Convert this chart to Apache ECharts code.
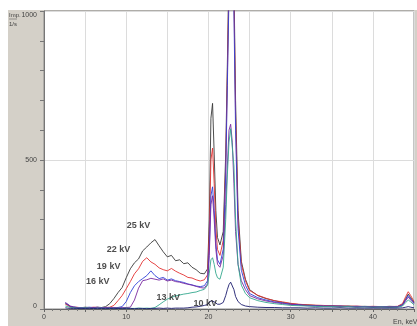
<!DOCTYPE html>
<html>
<head>
<meta charset="utf-8">
<script src="https://cdn.jsdelivr.net/npm/echarts@6/dist/echarts.min.js"></script>
<style>
  html, body { margin: 0; padding: 0; background: #fff; }
  #container { width: 417px; height: 326px; }
</style>
</head>
<body>
<div id="container"></div>
<script>
// energy axis, keV
const xs = [2.6, 2.9, 3.2, 3.6, 4, 4.5, 5, 5.5, 6, 6.5, 7, 7.5, 8, 8.5, 9, 9.5, 10, 10.5, 11, 11.5,
  12, 12.5, 13, 13.5, 14, 14.5, 15, 15.5, 16, 16.5, 17, 17.5, 18, 18.5, 19, 19.5, 19.9, 20.1, 20.3, 20.5,
  20.7, 20.9, 21.1, 21.4, 21.8, 22.1, 22.3, 22.5, 22.7, 22.9, 23.1, 23.3, 23.6, 24.0, 24.5, 25, 26, 27, 28, 29,
  30, 31, 32, 33, 34, 35, 36, 37, 38, 39, 40, 41, 42, 43, 43.6, 44, 44.3, 44.6, 45];

const kv25 = [18, 14, 8, 6, 5, 4, 6, 5, 4, 6, 5, 8, 18, 35, 55, 72, 105, 135, 155, 168,
  195, 208, 222, 233, 212, 192, 175, 180, 162, 165, 152, 155, 140, 132, 120, 118, 135, 300, 640, 690,
  520, 330, 240, 215, 260, 520, 820, 1150, 1350, 1300, 1100, 700, 330, 160, 100, 65, 45, 35, 28, 22,
  18, 15, 14, 12, 10, 11, 9, 10, 8, 9, 8, 7, 9, 8, 15, 35, 50, 38, 22];

const kv22 = [16, 12, 7, 5, 6, 4, 5, 4, 6, 5, 4, 5, 6, 12, 28, 45, 68, 92, 118, 135,
  160, 172, 158, 150, 138, 132, 128, 136, 127, 120, 114, 106, 104, 98, 94, 98, 115, 250, 500, 540,
  420, 270, 200, 180, 230, 480, 780, 1100, 1300, 1280, 1050, 650, 300, 150, 95, 62, 46, 36, 28, 24,
  19, 16, 14, 13, 12, 10, 11, 9, 10, 8, 9, 8, 8, 9, 18, 42, 58, 45, 25];

const kv19 = [20, 15, 9, 6, 5, 5, 4, 6, 5, 4, 5, 4, 5, 4, 5, 8, 25, 55, 78, 92,
  102, 112, 128, 112, 102, 106, 97, 101, 95, 92, 89, 84, 81, 77, 75, 78, 95, 200, 380, 410,
  330, 220, 165, 150, 200, 450, 750, 1050, 1250, 1250, 1000, 600, 270, 130, 80, 52, 38, 30, 24, 20,
  16, 14, 12, 11, 10, 9, 10, 8, 9, 8, 7, 8, 7, 8, 14, 32, 45, 34, 20];

const kv16 = [22, 16, 10, 7, 5, 4, 5, 4, 5, 6, 4, 5, 4, 5, 4, 5, 5, 6, 30, 70,
  95, 98, 103, 100, 97, 101, 94, 97, 92, 90, 86, 83, 80, 76, 72, 70, 85, 180, 350, 380,
  300, 200, 150, 140, 180, 350, 480, 600, 620, 560, 420, 260, 150, 95, 65, 45, 34, 27, 22, 18,
  15, 13, 11, 10, 9, 10, 8, 9, 7, 8, 7, 8, 6, 7, 12, 28, 40, 30, 18];

const kv13 = [10, 8, 5, 4, 3, 3, 4, 3, 2, 3, 3, 2, 3, 2, 3, 2, 3, 2, 2, 3,
  2, 3, 2, 5, 14, 24, 33, 39, 44, 47, 50, 52, 55, 57, 62, 66, 80, 120, 165, 172,
  150, 120, 105, 100, 140, 300, 450, 560, 605, 600, 480, 300, 150, 80, 52, 38, 28, 22, 18, 15,
  12, 11, 10, 9, 8, 8, 7, 8, 6, 7, 6, 7, 6, 6, 10, 22, 30, 24, 14];

const kv10 = [4, 3, 2, 2, 2, 1, 2, 1, 2, 1, 2, 1, 2, 1, 2, 1, 2, 2, 1, 2,
  2, 1, 2, 2, 3, 2, 3, 2, 3, 3, 3, 4, 6, 7, 9, 12, 15, 20, 28, 30,
  24, 18, 16, 16, 22, 45, 65, 82, 90, 85, 65, 42, 25, 15, 10, 8, 6, 5, 5, 4,
  4, 4, 3, 4, 3, 3, 4, 3, 3, 3, 3, 3, 3, 3, 4, 6, 8, 6, 4];

const seriesNames = ["25 kV", "22 kV", "19 kV", "16 kV", "13 kV", "10 kV"];
const seriesValues = [kv25, kv22, kv19, kv16, kv13, kv10];
const seriesColors = ["#3a3a3a", "#e33232", "#3040d8", "#7a2aa0", "#35a88e", "#1c1c6e"];

// curve labels: [x, y, text]
const curveLabels = [
  [11.5, 279, "25 kV"],
  [9.07, 198, "22 kV"],
  [7.86, 144, "19 kV"],
  [6.53, 91, "16 kV"],
  [15.1, 37, "13 kV"],
  [19.6, 20, "10 kV"]
];

const xTickLabels = [0, 10, 20, 30, 40];
const yTickLabels = [0, 500, 1000];

const series = seriesValues.map((vals, i) => ({
  name: seriesNames[i],
  type: "line",
  showSymbol: false,
  symbol: "none",
  clip: true,
  data: xs.map((x, j) => [x, vals[j]]),
  lineStyle: { color: seriesColors[i], width: 1, opacity: 0.9 },
  itemStyle: { color: seriesColors[i] },
  z: 3
}));

series.push({
  type: "scatter",
  symbolSize: 1,
  itemStyle: { color: "rgba(0,0,0,0)" },
  data: curveLabels,
  label: {
    show: true,
    position: "inside",
    formatter: (p) => p.data[2],
    fontFamily: "Arial, 'Liberation Sans', sans-serif",
    fontWeight: "bold",
    fontSize: 9,
    color: "#222"
  },
  z: 5
});

const option = {
  backgroundColor: "#fff",
  animation: false,
  graphic: [
    {
      type: "rect",
      left: 8, top: 10,
      shape: { width: 409, height: 316 },
      style: { fill: "#d4d0c8" },
      z: -10,
      silent: true
    },
    {
      type: "text",
      left: 9, top: 12,
      style: { text: "Imp.", fontSize: 6, fill: "#444", fontFamily: "Arial, sans-serif" }
    },
    {
      type: "line",
      shape: { x1: 9, y1: 19, x2: 17, y2: 19 },
      style: { stroke: "#666", lineWidth: 0.6 }
    },
    {
      type: "text",
      left: 9, top: 21,
      style: { text: "1/s", fontSize: 6, fill: "#444", fontFamily: "Arial, sans-serif" }
    },
    {
      type: "text",
      left: 393, top: 319,
      style: { text: "En, keV", fontSize: 7, fill: "#444", fontFamily: "Arial, sans-serif" }
    }
  ],
  grid: {
    left: 44,
    right: 0,
    top: 11,
    bottom: 17,
    show: true,
    backgroundColor: "#fff",
    borderColor: "#8a8a8a",
    borderWidth: 1,
    z: 0
  },
  xAxis: {
    type: "value",
    min: 0,
    max: 45,
    interval: 5,
    axisLine: { show: true, lineStyle: { color: "#666", width: 1 } },
    axisTick: { show: true, inside: false, length: 3, lineStyle: { color: "#666" } },
    minorTick: { show: true, splitNumber: 5, length: 2, lineStyle: { color: "#777" } },
    axisLabel: {
      fontSize: 7,
      color: "#444",
      margin: 5,
      fontFamily: "Arial, sans-serif",
      formatter: (v) => (xTickLabels.includes(v) ? String(v) : "")
    },
    splitLine: { show: true, lineStyle: { color: "#dcdcdc", width: 1 } }
  },
  yAxis: {
    type: "value",
    min: 0,
    max: 1000,
    interval: 500,
    axisLine: { show: true, lineStyle: { color: "#777", width: 1 } },
    axisTick: { show: true, inside: false, length: 4, lineStyle: { color: "#777" } },
    minorTick: { show: true, splitNumber: 5, length: 4, lineStyle: { color: "#777" } },
    axisLabel: {
      fontSize: 7,
      color: "#444",
      margin: 7,
      fontFamily: "Arial, sans-serif",
      formatter: (v) => {
        if (!yTickLabels.includes(v)) return "";
        if (v === 1000) return "{top|1000}";
        if (v === 0) return "{bot|0}";
        return String(v);
      },
      rich: {
        top: { fontSize: 7, color: "#444", padding: [8, 0, 0, 0] },
        bot: { fontSize: 7, color: "#444", padding: [0, 0, 6, 0] }
      }
    },
    splitLine: { show: true, lineStyle: { color: "#dcdcdc", width: 1 } }
  },
  series: series
};

const chart = echarts.init(document.getElementById("container"), null, { renderer: "canvas" });
chart.setOption(option);
</script>
</body>
</html>
